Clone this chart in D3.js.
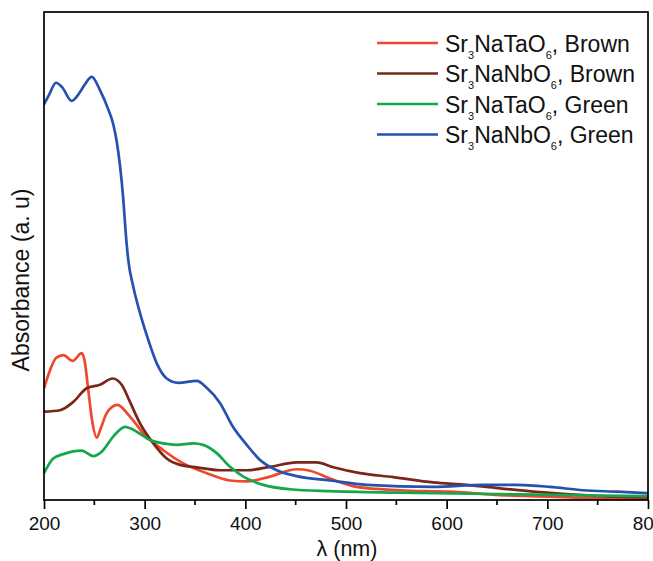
<!DOCTYPE html>
<html><head><meta charset="utf-8">
<script src="https://cdn.jsdelivr.net/npm/d3@7"></script>
<style>body{margin:0;background:#fff}svg{display:block}</style>
</head><body>
<script>
const seriesNames = ["Sr3NaTaO6, Brown","Sr3NaNbO6, Brown","Sr3NaTaO6, Green","Sr3NaNbO6, Green"];
const seriesColors = ["#f0482c","#7a2619","#14a84b","#2551b0"];
const xTicks = [200,300,400,500,600,700,800];

const taBrown = [[200,0.229],[206,0.266],[211.9,0.291],[219.2,0.297],[228.5,0.285],[237.4,0.301],[240.2,0.287],[244,0.225],[247.7,0.164],[252.4,0.128],[256.6,0.148],[262.3,0.178],[272.8,0.195],[285.4,0.171],[298.6,0.137],[318.5,0.102],[338.4,0.075],[361.6,0.055],[384.8,0.040],[401.4,0.038],[424.5,0.048],[451,0.063],[464.2,0.060],[484.1,0.044],[510.6,0.027],[553.6,0.020],[603.3,0.017],[653,0.010],[702.6,0.007],[752.3,0.003],[800,0.002]];
const nbBrown = [[200,0.181],[215.9,0.184],[229.1,0.201],[242.4,0.229],[255.6,0.236],[268.2,0.249],[277.2,0.236],[285.4,0.201],[295.4,0.157],[308.6,0.116],[321.9,0.085],[335.1,0.072],[351.7,0.067],[374.8,0.061],[401.4,0.061],[424.5,0.068],[451,0.077],[470.9,0.077],[487.4,0.067],[513.9,0.055],[547,0.047],[586.7,0.036],[619.9,0.031],[653,0.024],[686.1,0.017],[719.2,0.012],[752.3,0.008],[800,0.006]];
const taGreen = [[200,0.055],[209.2,0.085],[219.2,0.094],[237.4,0.101],[249,0.090],[257.3,0.099],[268.8,0.130],[280.5,0.150],[292.1,0.140],[305.3,0.123],[318.5,0.116],[331.8,0.113],[348.3,0.116],[358.2,0.113],[371.6,0.096],[384.8,0.068],[398,0.048],[417.8,0.031],[444.4,0.022],[484.1,0.018],[553.6,0.015],[653,0.012],[752.3,0.009],[800,0.008]];
const nbGreen = [[200,0.811],[205,0.830],[211.9,0.855],[217.9,0.846],[227.5,0.818],[235.8,0.836],[240.7,0.852],[247.4,0.867],[255.6,0.840],[263.9,0.800],[268.8,0.770],[272.2,0.735],[275.5,0.685],[278.8,0.615],[281.2,0.547],[283.7,0.492],[288.7,0.437],[295.4,0.383],[303.6,0.328],[312,0.280],[321.9,0.249],[333.4,0.240],[351.7,0.244],[361.6,0.230],[374.8,0.199],[387.7,0.150],[401.4,0.113],[414.6,0.082],[431.2,0.061],[451,0.049],[484.1,0.040],[520.5,0.031],[586.4,0.027],[636.1,0.031],[669.6,0.031],[702.6,0.027],[735.4,0.020],[768.9,0.017],[800,0.014]];
const allSeries = [taBrown, nbBrown, taGreen, nbGreen];

const W = 653, H = 561;
const m = {left:44, top:12, right:648, bottom:500};
const svg = d3.select("body").append("svg").attr("width",W).attr("height",H);
const x = d3.scaleLinear().domain([200,800]).range([m.left,m.right]);
const y = d3.scaleLinear().domain([0,1]).range([m.bottom,m.top]);
const font = "'Liberation Sans', Arial, sans-serif";

svg.append("clipPath").attr("id","clip").append("rect")
  .attr("x",m.left).attr("y",m.top).attr("width",m.right-m.left).attr("height",m.bottom-m.top);

const line = d3.line().x(d=>x(d[0])).y(d=>y(d[1])).curve(d3.curveMonotoneX);
const g = svg.append("g").attr("clip-path","url(#clip)");
allSeries.forEach((s,i)=>{
  g.append("path").datum(s).attr("d",line).attr("fill","none")
   .attr("stroke",seriesColors[i]).attr("stroke-width",2.7).attr("stroke-linejoin","round");
});

// frame
svg.append("rect").attr("x",m.left).attr("y",m.top).attr("width",m.right-m.left).attr("height",m.bottom-m.top)
  .attr("fill","none").attr("stroke","#000").attr("stroke-width",1.7);

// x axis
const xAxis = d3.axisBottom(x).tickValues(xTicks).tickFormat(d3.format("d")).tickSize(9).tickPadding(8);
const ax = svg.append("g").attr("transform",`translate(0,${m.bottom})`).call(xAxis);
ax.select(".domain").remove();
ax.selectAll("line").attr("stroke","#000").attr("stroke-width",1.7);
ax.selectAll("text").attr("font-family",font).attr("font-size",19).attr("fill","#111");
const minor = d3.range(250,800,100);
svg.append("g").selectAll("line").data(minor).join("line")
  .attr("x1",d=>x(d)).attr("x2",d=>x(d)).attr("y1",m.bottom).attr("y2",m.bottom+5)
  .attr("stroke","#000").attr("stroke-width",1.7);

svg.append("text").attr("x",347).attr("y",556).attr("text-anchor","middle")
  .attr("font-family",font).attr("font-size",21.5).attr("fill","#111").text("λ (nm)");
svg.append("text").attr("transform","translate(28.5,280) rotate(-90)").attr("text-anchor","middle")
  .attr("font-family",font).attr("font-size",23).attr("fill","#111").text("Absorbance (a. u)");

// legend
const leg = svg.append("g");
seriesNames.forEach((name,i)=>{
  const yy = 43 + i*30.5;
  leg.append("line").attr("x1",377).attr("x2",438).attr("y1",yy).attr("y2",yy)
    .attr("stroke",seriesColors[i]).attr("stroke-width",2.7);
  const mm = name.match(/^(Sr)(3)(Na\w\wO)(6)(, .*)$/);
  const t = leg.append("text").attr("x",445).attr("y",yy+8.5)
    .attr("font-family",font).attr("font-size",23).attr("fill","#111");
  t.append("tspan").text(mm[1]);
  t.append("tspan").attr("font-size",11).attr("dy",7).text(mm[2]);
  t.append("tspan").attr("dy",-7).text(mm[3]);
  t.append("tspan").attr("font-size",11).attr("dy",7).text(mm[4]);
  t.append("tspan").attr("dy",-7).text(mm[5]);
});
</script>
</body></html>
